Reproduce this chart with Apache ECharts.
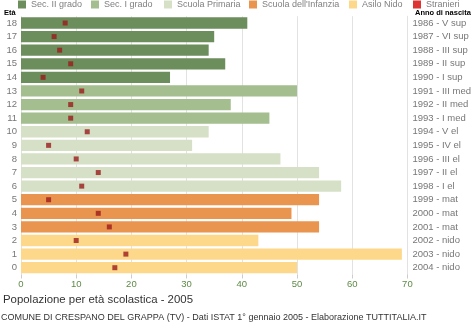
<!DOCTYPE html>
<html>
<head>
<meta charset="utf-8">
<script src="https://cdn.jsdelivr.net/npm/echarts@6/dist/echarts.min.js"></script>
<style>
html,body{margin:0;padding:0;background:#fff;}
#c{width:474px;height:326px;}
</style>
</head>
<body>
<div id="c"></div>
<script>
// Ages (bottom to top) and birth-year labels
var ages = ['0','1','2','3','4','5','6','7','8','9','10','11','12','13','14','15','16','17','18'];
var birthLabels = ['2004 - nido','2003 - nido','2002 - nido','2001 - mat','2000 - mat','1999 - mat',
  '1998 - I el','1997 - II el','1996 - III el','1995 - IV el','1994 - V el',
  '1993 - I med','1992 - II med','1991 - III med',
  '1990 - I sup','1989 - II sup','1988 - III sup','1987 - VI sup','1986 - V sup'];
// Population per age
var population = [50,69,43,54,49,54,58,54,47,31,34,45,38,50,27,37,34,35,41];
// Foreign residents per age
var stranieri = [17,19,10,16,14,5,11,14,10,5,12,9,9,11,4,9,7,6,8];
// School level for each age
var levelOfAge = ['Asilo Nido','Asilo Nido','Asilo Nido',
  "Scuola dell'Infanzia","Scuola dell'Infanzia","Scuola dell'Infanzia",
  'Scuola Primaria','Scuola Primaria','Scuola Primaria','Scuola Primaria','Scuola Primaria',
  'Sec. I grado','Sec. I grado','Sec. I grado',
  'Sec. II grado','Sec. II grado','Sec. II grado','Sec. II grado','Sec. II grado'];
var levels = ['Sec. II grado','Sec. I grado','Scuola Primaria',"Scuola dell'Infanzia",'Asilo Nido'];
var xTicks = [0,10,20,30,40,50,60,70];

var levelColors = {
  'Sec. II grado':'#6c8e5c',
  'Sec. I grado':'#a4be90',
  'Scuola Primaria':'#d5e0c6',
  "Scuola dell'Infanzia":'#e9954f',
  'Asilo Nido':'#fdd88b'
};
var font = 'Liberation Sans, Arial, Helvetica, sans-serif';

var series = levels.map(function(lv){
  return {
    name: lv,
    type: 'bar',
    stack: 'pop',
    barCategoryGap: '17%',
    itemStyle: {color: levelColors[lv]},
    data: population.map(function(v,i){ return levelOfAge[i]===lv ? v : '-'; }),
    silent: true
  };
});
series.push({
  name: 'Stranieri',
  type: 'scatter',
  symbol: 'rect',
  symbolSize: 5,
  itemStyle: {color: '#9b1c1c'},
  data: stranieri.map(function(v,i){ return [v, ages[i]]; }),
  z: 5
});

var legendLefts = [18, 91, 164, 249, 349, 413];
var legendNames = levels.concat(['Stranieri']);
var legends = legendNames.map(function(n, k){
  var d = n==='Stranieri' ? {name:n, itemStyle:{color:'#d40000'}} : {name:n};
  return {
    data: [d],
    left: legendLefts[k],
    top: 0,
    itemWidth: 8,
    itemHeight: 8,
    itemGap: 0,
    padding: 0,
    icon: 'rect',
    selectedMode: false,
    textStyle: {fontFamily: font, fontSize: 9, color: '#808080', padding:[0,0,0,0]}
  };
});

var chart = echarts.init(document.getElementById('c'), null, {renderer:'canvas'});
chart.setOption({
  animation: false,
  backgroundColor: '#fff',
  legend: legends,
  grid: {left: 21, right: 60.5, top: 16.2, bottom: 51.5, containLabel: false},
  xAxis: {
    type: 'value',
    min: 0, max: 70, interval: 10,
    axisLine: {show: false},
    axisTick: {show: true, length: 4, lineStyle: {color: '#ccc'}},
    splitLine: {show: true, lineStyle: {color: '#e2e2e2', width: 1}},
    axisLabel: {fontFamily: font, fontSize: 9.5, color: '#5d8a45', margin: 5,
      formatter: function(v){ return xTicks.indexOf(v) >= 0 ? String(v) : ''; }}
  },
  yAxis: [{
    type: 'category',
    data: ages,
    position: 'left',
    axisLine: {show: false},
    axisTick: {show: false},
    axisLabel: {fontFamily: font, fontSize: 9.5, color: '#777', margin: 4}
  },{
    type: 'category',
    data: birthLabels,
    position: 'right',
    axisLine: {show: true, lineStyle: {color: '#e2e2e2'}},
    axisTick: {show: false},
    axisLabel: {fontFamily: font, fontSize: 9.5, color: '#777', margin: 5}
  }],
  graphic: [
    {type:'text', left: 4, top: 9, style:{text:'Età', font:'bold 7.5px '+font, fill:'#000'}},
    {type:'text', left: 415, top: 9, style:{text:'Anno di nascita', font:'bold 7.5px '+font, fill:'#000'}},
    {type:'text', left: 3, top: 294, style:{text:'Popolazione per età scolastica - 2005', font:'11.4px '+font, fill:'#333'}},
    {type:'text', left: 1, top: 313, style:{text:'COMUNE DI CRESPANO DEL GRAPPA (TV) - Dati ISTAT 1° gennaio 2005 - Elaborazione TUTTITALIA.IT', font:'9px '+font, fill:'#333'}}
  ],
  series: series
});
</script>
</body>
</html>
